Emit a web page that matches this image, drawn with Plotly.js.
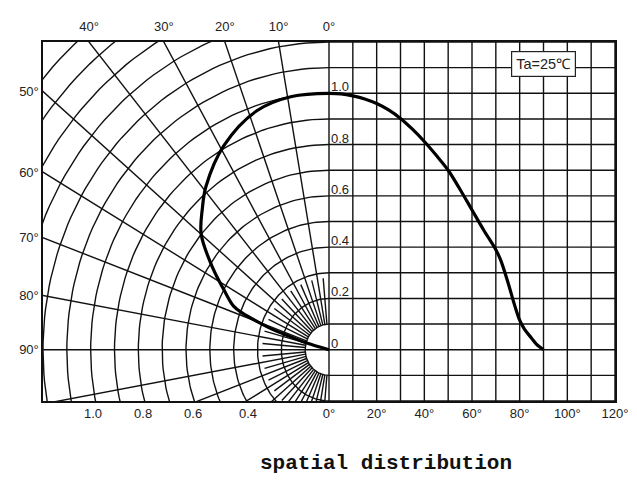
<!DOCTYPE html>
<html>
<head>
<meta charset="utf-8">
<script src="https://cdn.plot.ly/plotly-3.0.1.min.js"></script>
<style>html,body{margin:0;padding:0;background:#fff;}#chart{width:637px;height:484px;}</style>
</head>
<body>
<div id="chart"></div>
<script>
// ---- data ----
// Cartesian (right half): angle in degrees vs relative intensity
const cartAngle     = [0, 5, 10, 15, 20, 25, 30, 35, 40, 45, 50, 55, 60, 65, 70, 72, 75, 78, 80, 82, 85, 87, 90];
const cartIntensity = [1.0, 0.998, 0.99, 0.978, 0.96, 0.935, 0.902, 0.86, 0.812, 0.758, 0.70, 0.625, 0.545, 0.465, 0.39, 0.35, 0.265, 0.17, 0.115, 0.08, 0.045, 0.022, 0];
// Polar (left half): angle from axis in degrees vs relative intensity
const polarAngle     = [0, 9, 18, 29, 39, 44, 50, 57, 62, 67, 68.5, 70, 71.5, 72.5, 74.5, 76];
const polarIntensity = [1.0, 1.0, 0.98, 0.91, 0.82, 0.765, 0.70, 0.58, 0.50, 0.435, 0.39, 0.32, 0.25, 0.17, 0.10, 0];
// tick labels
const topAngles = [40, 30, 20, 10, 0];
const leftAngles = [50, 60, 70, 80, 90];
const radiusLabels = ['1.0', '0.8', '0.6', '0.4'];
const degreeTicks = [0, 20, 40, 60, 80, 100, 120];
const innerLabels = [1.0, 0.8, 0.6, 0.4, 0.2, 0];
const ambientLabel = 'Ta=25℃';
const chartTitle = 'spatial distribution';

// ---- geometry helpers ----
const SX = 100;           // x units per polar radius 1.0 (x axis: degrees on right side)
const d2r = Math.PI / 180;
function px(r, t) { return -SX * r * Math.sin(t * d2r); }
function py(r, t) { return r * Math.cos(t * d2r); }

const gx = [], gy = [];
function seg(xs, ys) { for (let i = 0; i < xs.length; i++) { gx.push(xs[i]); gy.push(ys[i]); } gx.push(null); gy.push(null); }

// polar circles
for (let k = 1; k <= 17; k++) {
  const r = k / 10, xs = [], ys = [];
  for (let t = 0; t <= 180; t += 1.5) { xs.push(px(r, t)); ys.push(py(r, t)); }
  seg(xs, ys);
}
// polar radial lines every 10 deg
for (let t = 10; t <= 170; t += 10) {
  const r0 = (t === 90) ? 0 : 0.1;
  seg([px(r0, t), px(2.5, t)], [py(r0, t), py(2.5, t)]);
}
// short radial lines every 5 deg near the centre
for (let t = 5; t <= 175; t += 10) {
  seg([px(0.1, t), px(0.28, t)], [py(0.1, t), py(0.28, t)]);
}
// vertical 0 deg line full height
seg([0, 0], [-0.2, 1.2]);
// cartesian grid
for (let a = 10; a <= 120; a += 10) seg([a, a], [-0.2, 1.2]);
for (let k = -2; k <= 12; k++) seg([0, 120], [k / 10, k / 10]);

const gridTrace = { x: gx, y: gy, mode: 'lines', line: { color: '#111', width: 1.4 }, hoverinfo: 'skip', showlegend: false };

const curveLine = { color: '#000', width: 3.2, shape: 'spline', smoothing: 1.0 };
const cartTrace = { x: cartAngle, y: cartIntensity, mode: 'lines', line: curveLine, showlegend: false };
const polarTrace = {
  x: polarAngle.map((t, i) => px(polarIntensity[i], t)),
  y: polarAngle.map((t, i) => py(polarIntensity[i], t)),
  mode: 'lines', line: curveLine, showlegend: false
};
const topDummy = { x: [0], y: [0], xaxis: 'x2', mode: 'markers', marker: { opacity: 0 }, hoverinfo: 'skip', showlegend: false };

const tickFont = { family: 'Liberation Sans, Arial, sans-serif', size: 13, color: '#222' };

const annotations = innerLabels.map(v => ({
  x: 0, y: v, xref: 'x', yref: 'y', text: (v === 0 ? '0' : v.toFixed(1)), showarrow: false,
  xanchor: 'left', yanchor: 'bottom', xshift: 0, yshift: -3, font: tickFont
}));
annotations.push({
  x: 90, y: 1.113, xref: 'x', yref: 'y', text: ambientLabel, showarrow: false,
  xanchor: 'center', yanchor: 'middle', bgcolor: '#fff', bordercolor: '#222', borderwidth: 1.2, borderpad: 4,
  font: { family: 'Liberation Sans, Arial, sans-serif', size: 14.5, color: '#222' }
});

const layout = {
  width: 637, height: 484,
  margin: { l: 43, r: 22, t: 42, b: 83, pad: 0 },
  paper_bgcolor: '#fff', plot_bgcolor: '#fff',
  title: { text: '<b>' + chartTitle + '</b>', font: { family: 'Liberation Mono, DejaVu Sans Mono, monospace', size: 21, color: '#111' },
           x: 382 / 637, xref: 'paper', xanchor: 'center', y: 1 - 462 / 484, yref: 'container', yanchor: 'middle' },
  xaxis: {
    range: [-120, 120], showgrid: false, zeroline: false, showline: true, mirror: true, linecolor: '#111', linewidth: 1.6,
    tickvals: [-99, -78, -57, -34].concat(degreeTicks),
    ticktext: radiusLabels.concat(degreeTicks.map(d => d + '°')),
    ticks: '', tickfont: tickFont, fixedrange: true
  },
  xaxis2: {
    overlaying: 'x', side: 'top', anchor: 'y', range: [-120, 120], showgrid: false, zeroline: false, showline: false,
    tickvals: topAngles.map(t => -120 * Math.tan(t * d2r)),
    ticktext: topAngles.map(t => t + '°'),
    ticks: 'outside', ticklen: 5, tickcolor: 'rgba(0,0,0,0)', tickfont: tickFont
  },
  yaxis: {
    range: [-0.2, 1.2], showgrid: false, zeroline: false, showline: true, mirror: true, linecolor: '#111', linewidth: 1.6,
    tickvals: leftAngles.map(t => 1.2 / Math.tan(t * d2r)),
    ticktext: leftAngles.map(t => t + '°'),
    ticks: '', tickfont: tickFont, fixedrange: true
  },
  annotations: annotations
};

Plotly.newPlot('chart', [gridTrace, polarTrace, cartTrace, topDummy], layout, { staticPlot: true });
</script>
</body>
</html>
